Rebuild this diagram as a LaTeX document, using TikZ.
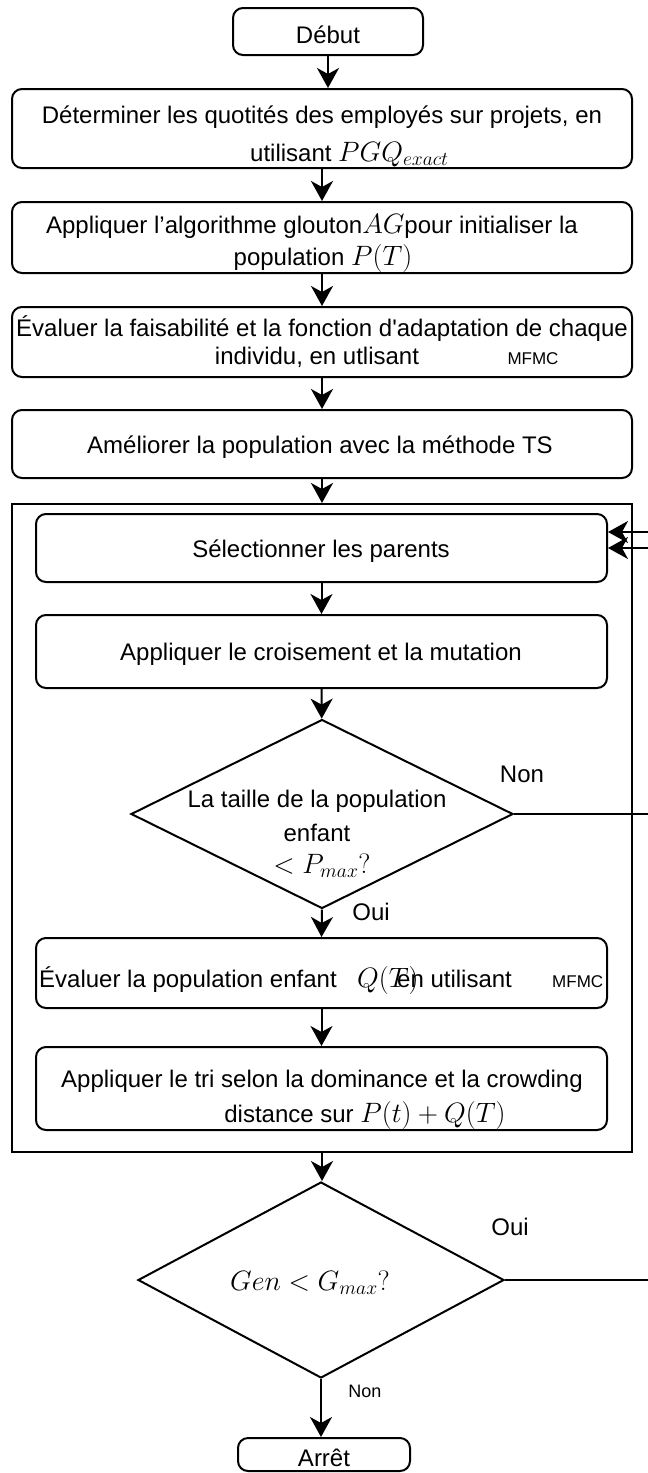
\RequirePackage{fix-cm}
\documentclass[tikz,border=0pt]{standalone}
\usepackage{fontspec}
\setmainfont{Liberation Sans}
\usetikzlibrary{arrows.meta,shapes.geometric,calc}
\newcommand{\fs}{\fontsize{24}{29}\selectfont}
\newcommand{\mm}[1]{{\fontsize{28}{33}\selectfont$#1$}}
\newcommand{\smf}{\fontsize{17}{20}\selectfont}
\begin{document}
\begin{tikzpicture}[x=1pt,y=-1pt,
  rbox/.style={draw, line width=2pt, rounded corners=10pt, inner sep=0pt, fill=white},
  frame/.style={draw, line width=2pt, inner sep=0pt},
  dia/.style={draw, line width=2pt, diamond, inner sep=0pt, fill=white},
  txt/.style={inner sep=0pt, font=\fs, anchor=base},
  arr/.style={line width=2pt, -{Stealth[length=20pt,width=22pt,inset=6pt]}}
]
\useasboundingbox (0,0) rectangle (648,1473);
\fill[white] (0,0) rectangle (648,1473);
\begin{scope}
\clip (0,0) rectangle (648,1473);
% boxes
\node[rbox, minimum width=190pt, minimum height=47pt] (start) at (328,31.5) {};
\node[rbox, minimum width=620pt, minimum height=79pt] (b2) at (322,128.5) {};
\node[rbox, minimum width=620pt, minimum height=71pt] (b3) at (322,237.5) {};
\node[rbox, minimum width=620pt, minimum height=70pt] (b4) at (322,342) {};
\node[rbox, minimum width=620pt, minimum height=68pt] (b5) at (322,444) {};
\node[frame, minimum width=620pt, minimum height=648pt] (outer) at (322,828) {};
\node[rbox, minimum width=571pt, minimum height=68pt] (sel) at (321.5,548) {};
\node[rbox, minimum width=571pt, minimum height=73pt] (crois) at (321.5,651.5) {};
\node[dia, minimum width=382pt, minimum height=189pt] (d1) at (322,814) {};
\node[rbox, minimum width=571pt, minimum height=70pt] (eval) at (321.5,973) {};
\node[rbox, minimum width=571pt, minimum height=83pt] (tri) at (321.5,1088.5) {};
\node[dia, minimum width=366pt, minimum height=196pt] (d2) at (321,1280) {};
\node[rbox, minimum width=172pt, minimum height=33pt] (stop) at (324,1454.5) {};
% texts
\node[txt] (tstart) at (328,43) {Début};
\node[txt] (t2a) at (322,123) {Déterminer les quotités des employés sur projets, en};
\node[txt, anchor=base west] (t2b) at (250,161) {utilisant \mm{PGQ_{exact}}};
\node[txt] (t3a) at (312,233) {Appliquer l’algorithme glouton\mm{AG}pour initialiser la};
\node[txt] (t3b) at (323,265) {population \mm{P(T)}};
\node[txt] (t4a) at (322,336) {Évaluer la faisabilité et la fonction d\textquotesingle adaptation de chaque};
\node[txt] (t4b) at (317,364) {individu, en utlisant};
\node[txt, font=\smf] (t4c) at (533,364) {MFMC};
\node[txt] (t5) at (320,453) {Améliorer la population avec la méthode TS};
\node[txt] (tsel) at (321,557) {Sélectionner les parents};
\node[txt] (tcrois) at (321,660) {Appliquer le croisement et la mutation};
\node[txt] (td1a) at (317,807) {La taille de la population};
\node[txt] (td1b) at (317,841) {enfant};
\node[txt] (td1c) at (322,873) {\mm{<P_{max}?}};
\node[txt, anchor=base west] (tev1) at (39,987) {Évaluer la population enfant};
\node[txt, anchor=base west] (tev2) at (357,987) {\mm{Q(T)}};
\node[txt, anchor=base west] (tev3) at (397,987) {en utilisant};
\node[txt, anchor=base west, font=\smf] (tev4) at (552,987) {MFMC};
\node[txt] (ttri1) at (322,1087) {Appliquer le tri selon la dominance et la crowding};
\node[txt] (ttri2) at (365,1122) {distance sur \mm{P(t)+Q(T)}};
\node[txt] (td2) at (310,1290) {\mm{Gen<G_{max}?}};
\node[txt] (tstop) at (324,1466) {Arrêt};
% labels
\node[txt] (lnon1) at (522,782) {Non};
\node[txt] (loui1) at (371,920) {Oui};
\node[txt] (loui2) at (510,1235) {Oui};
\node[txt, font=\fontsize{18}{22}\selectfont] (lnon2) at (365,1397) {Non};
% connectors
\draw[arr] (start.south) -- (start.south |- b2.north);
\draw[arr] (b2) -- (b3);
\draw[arr] (b3) -- (b4);
\draw[arr] (b4) -- (b5);
\draw[arr] (b5.south) -- (b5.south |- outer.north);
\draw[arr] (sel) -- (crois);
\draw[arr] (crois) -- (d1);
\draw[arr] (d1.south) -- (eval.north);
\draw[arr] (eval) -- (tri);
\draw[arr] (outer.south) -- (outer.south |- d2.north);
\draw[arr] (d2.south) -- (d2.south |- stop.north);
\draw[arr] (d1.east) -- ++(150,0) |- (sel.east);
\draw[arr] (d2.east) -- ++(170,0) |- ($(sel.east)+(0,-16)$);
\end{scope}
\end{tikzpicture}
\end{document}
